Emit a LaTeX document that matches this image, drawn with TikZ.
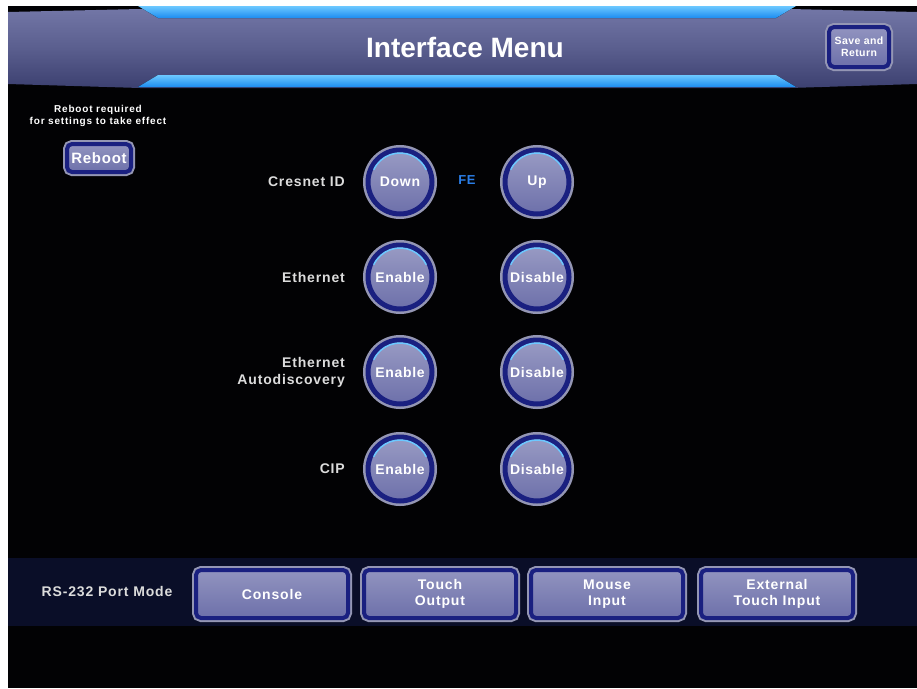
\documentclass[tikz,border=0pt]{standalone}
\usepackage{fontspec}
\setmainfont{Liberation Sans}
\definecolor{screenBlack}{HTML}{020204}
\definecolor{barTop}{HTML}{7276A6}
\definecolor{barMid}{HTML}{5A5E8E}
\definecolor{barBot}{HTML}{3C4070}
\definecolor{glowBlue}{HTML}{1C8CF0}
\definecolor{glowLight}{HTML}{6CC8FF}
\definecolor{btnFill}{HTML}{6D70AA}
\definecolor{btnRim}{HTML}{1A2080}
\definecolor{btnRing}{HTML}{9496B4}
\definecolor{labelGray}{HTML}{DCDCDC}
\definecolor{feBlue}{HTML}{2A7EE8}
\definecolor{bandNavy}{HTML}{0A0E28}

\begin{document}
\begin{tikzpicture}
    [x = 1pt, y = -1pt,
     titleText/.style = {text = white, font = \bfseries\fontsize{28}{30}\selectfont},
     smallText/.style = {text = white, align = center, inner sep = 0pt,
                         font = \bfseries\fontsize{10}{12.5}\selectfont\addfontfeatures{LetterSpace=8}},
     rowLabel/.style = {text = labelGray, align = right, anchor = east, inner sep = 0pt,
                        font = \bfseries\fontsize{14}{17}\selectfont\addfontfeatures{LetterSpace=6}},
     roundBtn/.style = {circle, minimum size = 64pt, inner sep = 0pt,
                        top color = btnFill!70!white, bottom color = btnFill,
                        draw = btnRim, line width = 5pt,
                        preaction = {draw = btnRing, line width = 10pt},
                        text = white,
                        font = \bfseries\fontsize{14}{16}\selectfont\addfontfeatures{LetterSpace=5}},
     rectBtn/.style = {rectangle, rounded corners = 5pt, inner sep = 0pt,
                       top color = btnFill!75!white, bottom color = btnFill,
                       draw = btnRim, line width = 4pt,
                       preaction = {draw = btnRing, line width = 8pt},
                       text = white, align = center,
                       font = \bfseries\fontsize{14}{16}\selectfont\addfontfeatures{LetterSpace=6}},
     rimGlow/.style = {glowLight, line width = 1.5pt},
     glow/.style = {top color = glowLight, bottom color = glowBlue, draw = none}]

    % frame and screen
    \useasboundingbox (0,0) rectangle (917,688);
    \fill [white] (0,0) rectangle (917,688);
    \fill [screenBlack] (8,6) rectangle (917,688);

    % header bar
    \shade [top color = barTop, bottom color = barBot, middle color = barMid]
      (8,12) -- (140,9) -- (790,9) -- (917,12) -- (917,84) -- (790,88)
      -- (140,88) -- (8,84) -- cycle;
    \fill [glow] (138,6) -- (796,6) -- (776,18) -- (158,18) -- cycle;
    \fill [glow] (158,75) -- (776,75) -- (796,87) -- (138,87) -- cycle;
    \node at (465,47) [titleText] (title) {Interface Menu};

    \node at (859,47) [rectBtn, minimum width = 60pt, minimum height = 40pt,
                       font = \bfseries\fontsize{10.5}{12}\selectfont\addfontfeatures{LetterSpace=4}]
                      (save) {Save and\\Return};

    % reboot
    \node at (98,116) [smallText] (rebootNote) {Reboot required\\for settings to take effect};
    \node at (99,158) [rectBtn, minimum width = 64pt, minimum height = 28pt,
                       font = \bfseries\fontsize{15}{17}\selectfont\addfontfeatures{LetterSpace=5}]
                      (reboot) {Reboot};

    % rows
    \node at (345,182) [rowLabel] (cresnetLbl) {Cresnet ID};
    \node at (400,182) [roundBtn] (cresnetDown) {Down};
    \node at (467,180) [text = feBlue, font = \bfseries\fontsize{13}{15}\selectfont\addfontfeatures{LetterSpace=5}] (fe) {FE};
    \node at (537,182) [roundBtn] (cresnetUp) {Up};

    \node at (345,277) [rowLabel] (ethLbl) {Ethernet};
    \node at (400,277) [roundBtn] (ethOn) {Enable};
    \node at (537,277) [roundBtn] (ethOff) {Disable};

    \node at (345,372) [rowLabel] (autoLbl) {Ethernet\\Autodiscovery};
    \node at (400,372) [roundBtn] (autoOn) {Enable};
    \node at (537,372) [roundBtn] (autoOff) {Disable};

    \node at (345,469) [rowLabel] (cipLbl) {CIP};
    \node at (400,469) [roundBtn] (cipOn) {Enable};
    \node at (537,469) [roundBtn] (cipOff) {Disable};

    % light edge on the rims
    \foreach \btn in {cresnetDown, cresnetUp, ethOn, ethOff, autoOn, autoOff, cipOn, cipOff}
      \draw [rimGlow] (\btn.center) ++(205:29) arc (205:335:29);

    % rs-232 band
    \fill [bandNavy] (8,558) rectangle (917,626);
    \node at (107,591) [rowLabel, anchor = center] (portLbl) {RS-232 Port Mode};
    \node at (272,594) [rectBtn, minimum width = 152pt, minimum height = 48pt] (console) {Console};
    \node at (440,594) [rectBtn, minimum width = 152pt, minimum height = 48pt] (touchOut) {Touch\\Output};
    \node at (607,594) [rectBtn, minimum width = 152pt, minimum height = 48pt] (mouseIn) {Mouse\\Input};
    \node at (777,594) [rectBtn, minimum width = 152pt, minimum height = 48pt] (extTouch) {External\\Touch Input};
  \end{tikzpicture}
\end{document}
